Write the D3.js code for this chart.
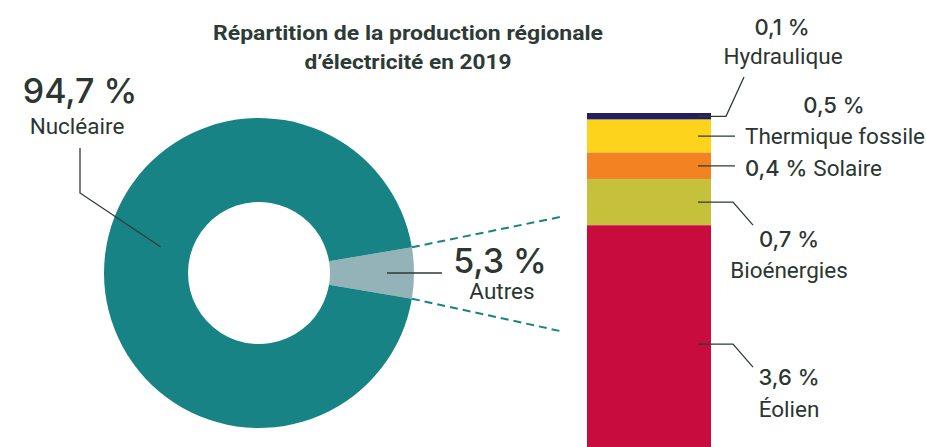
<!DOCTYPE html>
<html>
<head>
<meta charset="utf-8">
<script src="https://cdn.jsdelivr.net/npm/d3@7"></script>
<style>
  body { margin: 0; background: #fff; }
  .num { font-family: Inter, "Open Sans", sans-serif; font-weight: 500; fill: #2b3631; }
  .lbl { font-family: "Roboto", sans-serif; fill: #2b3631; }
  .lead { stroke: #2f3a35; stroke-width: 1.3; fill: none; }
</style>
</head>
<body>
<svg id="chart"></svg>
<script>
// donut: nuclear vs the rest
const donutNames = ["Autres", "Nucléaire"];
const donutValues = [5.3, 94.7];
const donutLabels = ["5,3 %", "94,7 %"];
const donutColors = ["#93b3b8", "#188385"];

// breakdown of "Autres", top to bottom
const mixNames = ["Hydraulique", "Thermique fossile", "Solaire", "Bioénergies", "Éolien"];
const mixValues = [0.1, 0.5, 0.4, 0.7, 3.6];
const mixLabels = ["0,1 %", "0,5 %", "0,4 %", "0,7 %", "3,6 %"];
const mixColors = ["#252060", "#fdd31c", "#f38223", "#c6c13a", "#c80c3e"];

const width = 926, height = 447;
const svg = d3.select("#chart").attr("width", width).attr("height", height);

// title
const title = svg.append("text")
    .attr("x", 408).attr("y", 40)
    .attr("text-anchor", "middle")
    .style("font", "bold 21px Roboto, sans-serif")
    .style("fill", "#2d3b36");
title.append("tspan").attr("x", 408).text("Répartition de la production régionale")
    .attr("textLength", 390).attr("lengthAdjust", "spacingAndGlyphs");
title.append("tspan").attr("x", 408).attr("dy", 29).text("d’électricité en 2019")
    .attr("textLength", 207).attr("lengthAdjust", "spacingAndGlyphs");

// ---- donut ----
const cx = 259, cy = 273, rOuter = 155, rInner = 71;
const half = donutValues[0] / 100 * Math.PI;
const pie = d3.pie().sort(null)
    .startAngle(Math.PI / 2 - half)
    .endAngle(Math.PI / 2 - half + 2 * Math.PI);
const arcs = pie(donutValues);
const arc = d3.arc().innerRadius(rInner).outerRadius(rOuter);

const donut = svg.append("g").attr("transform", `translate(${cx},${cy})`);
donut.selectAll("path")
    .data(arcs)
    .join("path")
    .attr("d", arc)
    .attr("fill", (d, i) => donutColors[i]);

const polar = (a, r) => [cx + r * Math.sin(a), cy - r * Math.cos(a)];

// ---- stacked bar ----
const barX = 587, barW = 124, barTop = 113;
const y = d3.scaleLinear().domain([0, d3.sum(mixValues)]).range([barTop, barTop + 350]);
const cum = d3.cumsum(mixValues);
const segs = mixValues.map((v, i) => ({ name: mixNames[i], v, y0: cum[i] - v, y1: cum[i] }));

svg.append("g").selectAll("rect")
    .data(segs)
    .join("rect")
    .attr("x", barX)
    .attr("y", d => y(d.y0))
    .attr("width", barW)
    .attr("height", d => y(d.y1) - y(d.y0))
    .attr("fill", (d, i) => mixColors[i]);

// dashed connectors from the Autres slice
const a0 = arcs[0].startAngle, a1 = arcs[0].endAngle;
[[a0, 217], [a1, 331]].forEach(([a, ty]) => {
    const p = polar(a, rOuter);
    svg.append("line")
        .attr("x1", p[0]).attr("y1", p[1])
        .attr("x2", 560).attr("y2", ty)
        .attr("stroke", "#188385").attr("stroke-width", 2)
        .attr("stroke-dasharray", "8,5");
});

// ---- donut annotations ----
const pA = polar((a0 + a1) / 2, 128);
svg.append("path").attr("class", "lead")
    .attr("d", `M${pA[0]},${pA[1]}H442`);
svg.append("text").attr("class", "num")
    .attr("x", 500).attr("y", 273).attr("text-anchor", "middle")
    .style("font-size", "34px").text(donutLabels[0]);
svg.append("text").attr("class", "lbl")
    .attr("x", 502).attr("y", 299).attr("text-anchor", "middle")
    .style("font-size", "22.5px").text(donutNames[0]);

const pN = polar(-1.31, 102);
svg.append("path").attr("class", "lead")
    .attr("d", `M80,148V193L${pN[0]},${pN[1]}`);
svg.append("text").attr("class", "num")
    .attr("x", 80).attr("y", 103).attr("text-anchor", "middle")
    .style("font-size", "34px").text(donutLabels[1]);
svg.append("text").attr("class", "lbl")
    .attr("x", 77).attr("y", 134).attr("text-anchor", "middle")
    .style("font-size", "22.5px").text(donutNames[1]);

// ---- bar annotations ----
const mid = d => y((d.y0 + d.y1) / 2);
const x0 = 698;

// Hydraulique
let s = segs[0];
svg.append("path").attr("class", "lead")
    .attr("d", `M${x0},${mid(s)}H726L744,77`);
svg.append("text").attr("class", "num").attr("x", 782).attr("y", 35)
    .attr("text-anchor", "middle").style("font-size", "22px").text(mixLabels[0]);
svg.append("text").attr("class", "lbl").attr("x", 783).attr("y", 64)
    .attr("text-anchor", "middle").style("font-size", "22.5px").text(mixNames[0]);

// Thermique fossile
s = segs[1];
svg.append("path").attr("class", "lead").attr("d", `M${x0},${mid(s)}H735`);
svg.append("text").attr("class", "num").attr("x", 834).attr("y", 113)
    .attr("text-anchor", "middle").style("font-size", "22px").text(mixLabels[1]);
svg.append("text").attr("class", "lbl").attr("x", 745).attr("y", 144)
    .style("font-size", "22.5px").text(mixNames[1]);

// Solaire
s = segs[2];
svg.append("path").attr("class", "lead").attr("d", `M${x0},${mid(s)}H735`);
const sol = svg.append("text").attr("x", 745).attr("y", 176);
sol.append("tspan").attr("class", "num").style("font-size", "22px").text(mixLabels[2] + " ");
sol.append("tspan").attr("class", "lbl").style("font-size", "22.5px").text(mixNames[2]);

// Bioénergies, Éolien
[[3, 247, 278], [4, 385, 417]].forEach(([i, yn, yl]) => {
    const m = mid(segs[i]);
    svg.append("path").attr("class", "lead")
        .attr("d", `M${x0},${m}H733L753,${m + 23}`);
    svg.append("text").attr("class", "num").attr("x", 789).attr("y", yn)
        .attr("text-anchor", "middle").style("font-size", "22px").text(mixLabels[i]);
    svg.append("text").attr("class", "lbl").attr("x", 789).attr("y", yl)
        .attr("text-anchor", "middle").style("font-size", "22.5px").text(mixNames[i]);
});
</script>
</body>
</html>
